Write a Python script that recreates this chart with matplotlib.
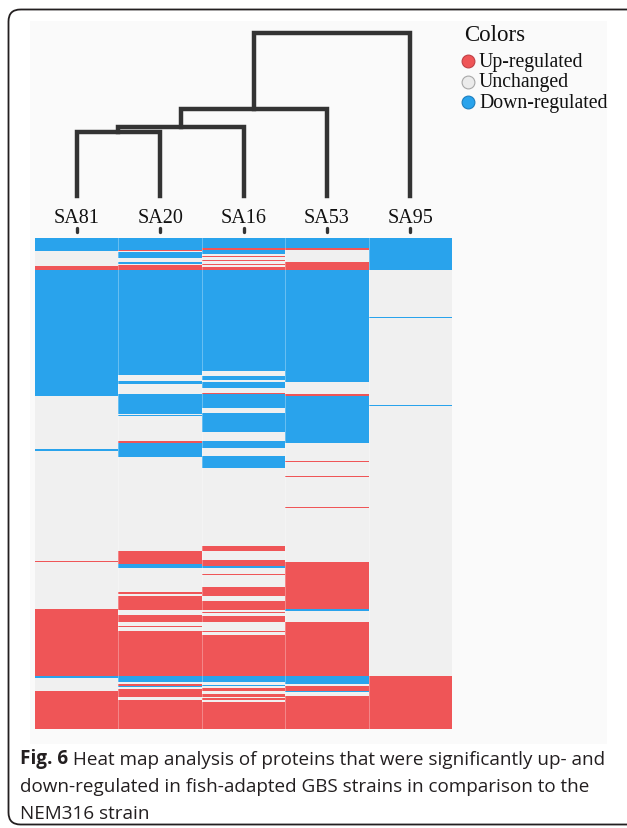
import numpy as np
import matplotlib.pyplot as plt
from matplotlib.patches import FancyBboxPatch, Rectangle

# strains (columns of the heat map, in dendrogram order)
strains = ['SA81', 'SA20', 'SA16', 'SA53', 'SA95']

# status per protein, as runs of (status, number of proteins) from top to bottom
# 1 = up-regulated, 0 = unchanged, -1 = down-regulated
sa81 = [(-1, 13), (0, 15), (1, 4), (-1, 126), (0, 53), (-1, 2), (0, 110), (1, 1),
        (0, 47), (1, 67), (-1, 2), (0, 13), (1, 38)]
sa20 = [(-1, 12), (1, 1), (0, 1), (-1, 6), (0, 4), (-1, 2), (0, 1), (1, 5), (-1, 105),
        (0, 6), (-1, 3), (0, 10), (-1, 20), (0, 1), (-1, 1), (0, 25), (1, 2), (-1, 14),
        (0, 94), (1, 13), (-1, 4), (0, 24), (1, 2), (0, 2), (1, 14), (0, 5), (1, 7),
        (0, 4), (1, 1), (0, 4), (1, 45), (-1, 6), (0, 2), (1, 2), (-1, 1), (0, 2),
        (1, 8), (0, 3), (1, 29)]
sa16 = [(-1, 10), (1, 2), (-1, 4), (0, 2), (1, 1), (0, 3), (1, 1), (0, 3), (1, 1),
        (0, 2), (1, 3), (-1, 101), (0, 5), (-1, 4), (0, 2), (-1, 6), (0, 5), (1, 1),
        (-1, 14), (0, 5), (-1, 19), (0, 9), (-1, 7), (0, 8), (-1, 12), (0, 78), (1, 5),
        (0, 9), (1, 6), (-1, 2), (0, 6), (1, 1), (0, 12), (1, 9), (0, 5), (1, 9),
        (0, 2), (1, 1), (0, 3), (1, 6), (0, 9), (1, 1), (0, 3), (1, 41), (-1, 6),
        (0, 3), (-1, 1), (0, 2), (1, 3), (0, 3), (1, 3), (0, 1), (1, 2), (0, 2), (1, 27)]
sa53 = [(-1, 10), (1, 2), (0, 12), (1, 8), (-1, 112), (0, 12), (1, 2), (-1, 47),
        (0, 18), (1, 1), (0, 14), (1, 1), (0, 30), (1, 1), (0, 54), (1, 47), (-1, 2),
        (0, 11), (1, 54), (-1, 8), (0, 2), (1, 5), (-1, 1), (0, 4), (1, 33)]
sa95 = [(-1, 32), (0, 47), (-1, 1), (0, 87), (-1, 1), (0, 270), (1, 53)]

# dendrogram merge heights: SA81+SA20, +SA16, +SA53, +SA95
merge_heights = [64, 69, 87, 163]

legend_labels = ['Up-regulated', 'Unchanged', 'Down-regulated']
caption_bold = 'Fig. 6'
caption_rest = (' Heat map analysis of proteins that were significantly up- and\n'
                'down-regulated in fish-adapted GBS strains in comparison to the\n'
                'NEM316 strain')

red = '#EF5557'
grey = '#F0F0F0'
blue = '#29A3EC'
dark = '#333333'
status_color = {1: red, 0: grey, -1: blue}

W, H = 627, 829
fig = plt.figure(figsize=(W / 100, H / 100), dpi=100)


def box(x0, y0, x1, y1):
    # pixel box (top-left origin) -> figure fraction rect
    return [x0 / W, 1 - y1 / H, (x1 - x0) / W, (y1 - y0) / H]


# overlay in pixel coordinates for frame, legend, ticks and caption
bg = fig.add_axes([0, 0, 1, 1], zorder=-1)
bg.set_xlim(0, W)
bg.set_ylim(H, 0)
bg.axis('off')
bg.add_patch(Rectangle((30, 22), 577, 723, fc='#FAFAFA', ec='none'))
bg.add_patch(FancyBboxPatch((8.5, 10.5), 700, 815, boxstyle='round,pad=0,rounding_size=12',
                            fill=False, lw=1.3, ec='#231F20'))

# heat map, one bar per run of proteins
hx0, hx1 = 35, 452
ax = fig.add_axes(box(hx0, 239, hx1, 730))
total = sum(n for _, n in sa81)
for i, runs in enumerate([sa81, sa20, sa16, sa53, sa95]):
    start = 0
    for s, n in runs:
        ax.bar(i, n, bottom=start, width=1.0, color=status_color[s], linewidth=0)
        start += n
ax.set_xlim(-0.5, len(strains) - 0.5)
ax.set_ylim(total, 0)
for k in range(1, len(strains)):
    ax.axvline(k - 0.5, color='white', lw=0.6, alpha=0.35)
ax.axis('off')

# dendrogram
axd = fig.add_axes(box(hx0, 34, hx1, 197))
axd.set_xlim(-0.5, len(strains) - 0.5)
axd.set_ylim(0, merge_heights[-1])
axd.axis('off')
x_node, h_node = 0, 0
for i, h in enumerate(merge_heights):
    right = i + 1
    axd.plot([x_node, x_node, right, right], [h_node, h, h, 0], color=dark, lw=3.2,
             solid_joinstyle='miter', solid_capstyle='projecting', clip_on=False)
    x_node, h_node = (x_node + right) / 2, h

# strain labels and tick marks
colw = (hx1 - hx0) / len(strains)
for i, name in enumerate(strains):
    xc = hx0 + (i + 0.5) * colw
    bg.text(xc, 218, name, ha='center', va='center', fontsize=14.5, family='Liberation Serif',
            color='#111111')
    bg.plot([xc, xc], [229, 233], color=dark, lw=2.4, solid_capstyle='round')

# legend
bg.text(464, 35, 'Colors', ha='left', va='center', fontsize=16.5, family='Liberation Serif',
        color='#111111')
for j, (lab, fc, ec) in enumerate(zip(legend_labels, [red, '#EBEBEB', blue],
                                      ['#C04045', '#A8A8A8', '#1C7FBF'])):
    y = 62 + j * 20.5
    bg.scatter([467.5], [y], s=85, c=fc, edgecolors=ec, linewidths=0.8)
    bg.text(479, y, lab, ha='left', va='center', fontsize=14.2, family='Liberation Serif',
            color='#111111')

# caption
fs = 13.6
t = bg.text(20, 769, caption_bold, ha='left', va='bottom', fontsize=fs, family='Open Sans',
            fontweight='bold', color='#231F20')
bg.annotate(caption_rest.split('\n')[0], xy=(1, 0), xycoords=t, ha='left', va='bottom',
            fontsize=fs, family='Open Sans', color='#231F20')
for k, line in enumerate(caption_rest.split('\n')[1:]):
    bg.text(20, 769 + 27 * (k + 1), line, ha='left', va='bottom', fontsize=fs,
            family='Open Sans', color='#231F20')

fig.savefig('out.png', dpi=100)
